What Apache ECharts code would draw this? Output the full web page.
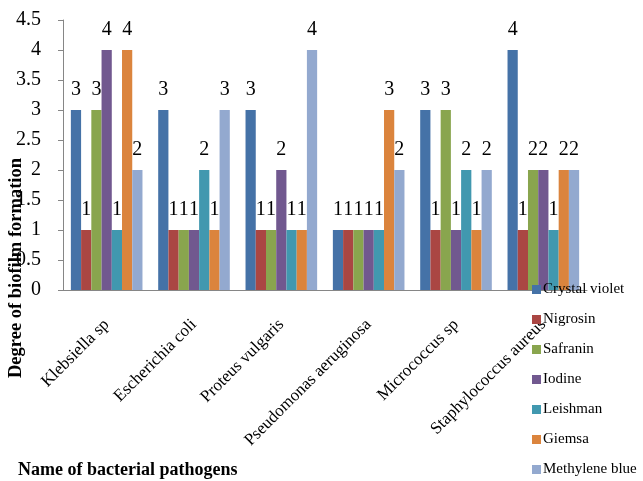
<!DOCTYPE html>
<html>
<head>
<meta charset="utf-8">
<script src="https://cdn.jsdelivr.net/npm/echarts@6/dist/echarts.min.js"></script>
<style>
  html, body { margin: 0; padding: 0; background: #fff; }
  #chart { width: 643px; height: 481px; }
</style>
</head>
<body>
<div id="chart"></div>
<script>
// Bacterial pathogens on the category axis
const pathogens = ['Klebsiella sp', 'Escherichia coli', 'Proteus vulgaris', 'Pseudomonas aeruginosa', 'Micrococcus sp', 'Staphylococcus aureus'];

// Degree of biofilm formation per stain
const crystalViolet = [3, 3, 3, 1, 3, 4];
const nigrosin      = [1, 1, 1, 1, 1, 1];
const safranin      = [3, 1, 1, 1, 3, 2];
const iodine        = [4, 1, 2, 1, 1, 2];
const leishman      = [1, 2, 1, 1, 2, 1];
const giemsa        = [4, 1, 1, 3, 1, 2];
const methyleneBlue = [2, 3, 4, 2, 2, 2];

const stainNames = ['Crystal violet', 'Nigrosin', 'Safranin', 'Iodine', 'Leishman', 'Giemsa', 'Methylene blue'];
const stainValues = [crystalViolet, nigrosin, safranin, iodine, leishman, giemsa, methyleneBlue];
const stainColors = ['#4572A7', '#AA4643', '#89A54E', '#71588F', '#4198AF', '#DB843D', '#93A9CF'];

const yTicks = { min: 0, max: 4.5, interval: 0.5 };

const serif = '"Liberation Serif", "Times New Roman", serif';

const chart = echarts.init(document.getElementById('chart'), null, { renderer: 'canvas' });

chart.setOption({
  animation: false,
  backgroundColor: '#ffffff',
  color: stainColors,
  grid: { left: 63, right: 56, top: 20, bottom: 191, containLabel: false },
  legend: {
    orient: 'vertical',
    left: 532,
    top: 282,
    padding: 0,
    itemWidth: 9,
    itemHeight: 9,
    itemGap: 15,
    icon: 'rect',
    textStyle: { fontFamily: serif, fontSize: 15, color: '#000', padding: [0, 0, 0, -3] },
    data: stainNames
  },
  xAxis: {
    type: 'category',
    data: pathogens,
    axisLine: { lineStyle: { color: '#868686', width: 1 } },
    axisTick: { show: false },
    axisLabel: {
      rotate: 45,
      margin: 32,
      interval: 0,
      fontFamily: serif,
      fontSize: 17,
      color: '#000'
    }
  },
  yAxis: {
    type: 'value',
    min: yTicks.min,
    max: yTicks.max,
    interval: yTicks.interval,
    axisLine: { show: true, lineStyle: { color: '#868686', width: 1 } },
    axisTick: { show: true, length: 5, lineStyle: { color: '#868686' } },
    splitLine: { show: false },
    axisLabel: {
      margin: 22,
      fontFamily: serif,
      fontSize: 20,
      color: '#000'
    }
  },
  graphic: [
    {
      type: 'text',
      x: 16,
      y: 268,
      rotation: Math.PI / 2,
      style: {
        text: 'Degree of biofilm formation',
        fontFamily: serif,
        fontSize: 18.5,
        fontWeight: 'bold',
        fill: '#000',
        align: 'center',
        verticalAlign: 'middle'
      }
    },
    {
      type: 'text',
      x: 18,
      y: 470,
      style: {
        text: 'Name of bacterial pathogens',
        fontFamily: serif,
        fontSize: 18,
        fontWeight: 'bold',
        fill: '#000',
        align: 'left',
        verticalAlign: 'middle'
      }
    }
  ],
  series: stainNames.map((name, i) => ({
    name: name,
    type: 'bar',
    data: stainValues[i],
    barGap: '0%',
    barCategoryGap: '18%',
    itemStyle: { color: stainColors[i] },
    label: {
      show: true,
      position: 'top',
      distance: 10,
      fontFamily: serif,
      fontSize: 20,
      color: '#000'
    }
  }))
});
</script>
</body>
</html>
